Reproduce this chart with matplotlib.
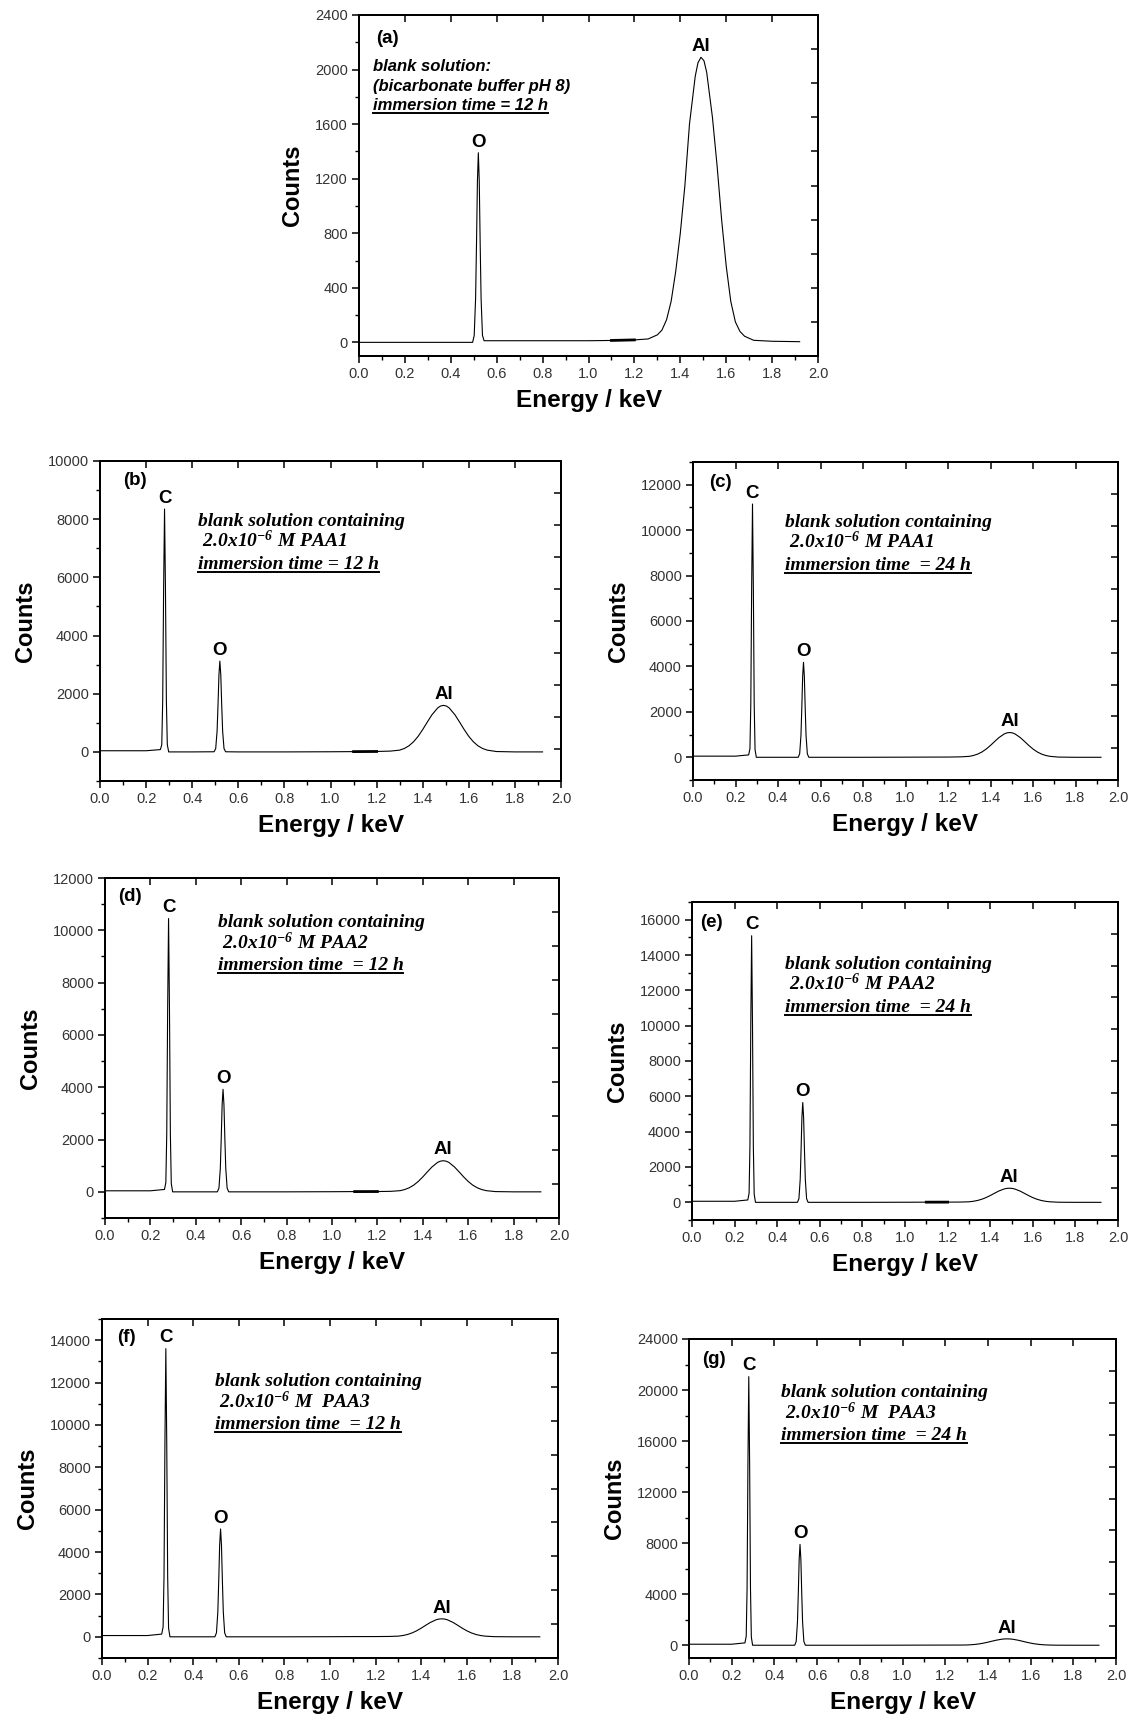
import numpy as np
import matplotlib
matplotlib.use("Agg")
import matplotlib.pyplot as plt
import matplotlib.transforms as mtransforms
from matplotlib.lines import Line2D
from matplotlib.ticker import MultipleLocator, FormatStrFormatter

plt.rcParams['font.family'] = ['Liberation Sans', 'DejaVu Sans']
plt.rcParams['mathtext.fontset'] = 'custom'
plt.rcParams['mathtext.rm'] = 'Liberation Serif:bold:italic'
plt.rcParams['mathtext.it'] = 'Liberation Serif:bold:italic'
plt.rcParams['mathtext.bf'] = 'Liberation Serif:bold:italic'

# energy axis (keV), shared by all spectra
energy = [0.00, 0.20, 0.262, 0.268, 0.272, 0.276, 0.280, 0.284, 0.288, 0.292, 0.298,
          0.40, 0.495, 0.502, 0.508, 0.512, 0.516, 0.520, 0.524, 0.528, 0.532, 0.538,
          0.545, 0.60, 0.80, 1.00, 1.10, 1.20, 1.26, 1.30, 1.32, 1.34, 1.36, 1.38,
          1.40, 1.42, 1.44, 1.465, 1.477, 1.49, 1.503, 1.515, 1.54, 1.56, 1.58, 1.60,
          1.62, 1.64, 1.66, 1.68, 1.72, 1.80, 1.92]

# counts
counts_a = [0, 0, 0, 0, 0, 0, 0, 0, 0, 0, 0,
            0, 0, 51, 320, 723, 1180, 1390, 1180, 723, 320, 51,
            12, 12, 12, 12, 14, 18, 25, 55, 90, 165, 300, 520,
            800, 1150, 1600, 1950, 2050, 2090, 2065, 1980, 1650, 1300, 900, 560,
            300, 150, 80, 45, 15, 8, 5]
counts_b = [40, 40, 80, 250, 1750, 5600, 8350, 5600, 1750, 250, 0,
            0, 5, 115, 720, 1620, 2650, 3120, 2650, 1620, 720, 115,
            5, 0, 0, 5, 10, 15, 28, 61, 117, 208, 346, 534,
            768, 1026, 1275, 1512, 1576, 1600, 1576, 1512, 1275, 1026, 768, 534,
            346, 208, 117, 61, 13, 0, 0]
counts_c = [50, 50, 105, 385, 2340, 7470, 11150, 7470, 2340, 335, 0,
            0, 0, 155, 960, 2175, 3555, 4180, 3555, 2175, 960, 155,
            0, 0, 0, 5, 8, 10, 19, 41, 80, 142, 235, 364,
            523, 699, 869, 1030, 1074, 1090, 1074, 1030, 869, 699, 523, 364,
            235, 142, 80, 41, 9, 0, 0]
counts_d = [40, 40, 92, 354, 2195, 7000, 10450, 7000, 2195, 314, 0,
            0, 0, 145, 900, 2040, 3330, 3920, 3330, 2040, 900, 145,
            0, 0, 0, 5, 10, 12, 20, 45, 87, 155, 257, 397,
            571, 763, 948, 1125, 1172, 1190, 1172, 1125, 948, 763, 571, 397,
            257, 155, 87, 45, 10, 0, 0]
counts_e = [60, 60, 135, 513, 3170, 10110, 15090, 10110, 3170, 453, 0,
            0, 0, 209, 1300, 2940, 4800, 5650, 4800, 2940, 1300, 209,
            0, 0, 0, 5, 10, 12, 16, 30, 58, 104, 173, 267,
            384, 513, 638, 756, 788, 800, 788, 756, 638, 513, 384, 267,
            173, 104, 58, 30, 6, 0, 0]
counts_f = [60, 60, 128, 468, 2856, 9112, 13600, 9112, 2856, 408, 0,
            0, 0, 188, 1170, 2647, 4327, 5090, 4327, 2647, 1170, 188,
            0, 0, 0, 5, 10, 12, 17, 32, 62, 110, 184, 284,
            408, 545, 677, 803, 837, 850, 837, 803, 677, 545, 408, 284,
            184, 110, 62, 32, 7, 0, 0]
counts_g = [80, 80, 185, 712, 4420, 14100, 21050, 14100, 4420, 632, 0,
            0, 0, 292, 1817, 4108, 6715, 7900, 6715, 4108, 1817, 292,
            0, 0, 0, 5, 10, 12, 14, 19, 37, 65, 108, 167,
            240, 321, 399, 473, 492, 500, 492, 473, 399, 321, 240, 167,
            108, 65, 37, 19, 4, 0, 0]

panel_tags = ['(a)', '(b)', '(c)', '(d)', '(e)', '(f)', '(g)']
y_limits = [(-100, 2400), (-1000, 10000), (-1000, 13000), (-1000, 12000),
            (-1000, 17000), (-1000, 15000), (-1000, 24000)]
y_steps = [400, 2000, 2000, 2000, 2000, 2000, 4000]
peak_names_a = [('O', 0.520), ('Al', 1.49)]
peak_names = [('C', 0.280), ('O', 0.520), ('Al', 1.49)]

note_a = ['blank solution:', '(bicarbonate buffer pH 8)', 'immersion time = 12 h']
note_b = ['blank solution containing', ' 2.0x10$^{-6}$ M PAA1', 'immersion time = 12 h']
note_c = ['blank solution containing', ' 2.0x10$^{-6}$ M PAA1', 'immersion time  = 24 h']
note_d = ['blank solution containing', ' 2.0x10$^{-6}$ M PAA2', 'immersion time  = 12 h']
note_e = ['blank solution containing', ' 2.0x10$^{-6}$ M PAA2', 'immersion time  = 24 h']
note_f = ['blank solution containing', ' 2.0x10$^{-6}$ M  PAA3', 'immersion time  = 12 h']
note_g = ['blank solution containing', ' 2.0x10$^{-6}$ M  PAA3', 'immersion time  = 24 h']

# layout (pixels: left, top, right, bottom) and text anchors (axes fractions)
boxes = [(359, 15, 818, 356), (100, 461, 561, 781), (693, 462, 1118, 780),
         (105, 878, 559, 1218), (692, 902, 1118, 1220), (102, 1319, 558, 1658),
         (689, 1339, 1116, 1658)]
tag_pos = [(0.037, 0.93), (0.05, 0.94), (0.039, 0.937), (0.03, 0.946),
           (0.019, 0.937), (0.033, 0.946), (0.03, 0.937)]
note_pos = [(0.031, 0.712), (0.213, 0.653), (0.216, 0.6525), (0.248, 0.72),
            (0.2176, 0.646), (0.248, 0.666), (0.215, 0.673)]
overlap = [True, True, False, True, True, False, False]

all_counts = [counts_a, counts_b, counts_c, counts_d, counts_e, counts_f, counts_g]
all_notes = [note_a, note_b, note_c, note_d, note_e, note_f, note_g]

W, H = 1137, 1720
fig = plt.figure(figsize=(W / 100, H / 100), dpi=100)
E = np.array(energy)
tick_col = '#333333'

underlines = []
for k in range(7):
    l, t, r, b = boxes[k]
    ax = fig.add_axes([l / W, 1 - b / H, (r - l) / W, (b - t) / H])
    y = np.array(all_counts[k], dtype=float)
    ax.plot(E, y, color='black', lw=0.8)
    if overlap[k]:
        m = (E >= 1.09) & (E <= 1.22)
        ax.plot(E[m], y[m], color='black', lw=2.0)

    ylo, yhi = y_limits[k]
    ax.set_xlim(0, 2.0)
    ax.set_ylim(ylo, yhi)
    ax.xaxis.set_major_locator(MultipleLocator(0.2))
    ax.xaxis.set_minor_locator(MultipleLocator(0.1))
    ax.xaxis.set_major_formatter(FormatStrFormatter('%.1f'))
    ax.yaxis.set_major_locator(MultipleLocator(y_steps[k]))
    ax.yaxis.set_minor_locator(MultipleLocator(y_steps[k] / 2))
    ax.tick_params(which='major', direction='out', length=5, width=1.1,
                   labelsize=10.5, labelcolor=tick_col, pad=3)
    ax.tick_params(which='minor', direction='out', length=3, width=1.0)
    for s in ax.spines.values():
        s.set_linewidth(1.3)

    # mirror axes with their own evenly spaced inward ticks
    axr = ax.twinx()
    axr.set_ylim(0, 1)
    axr.set_yticks(np.arange(1, 10) / 10)
    axr.tick_params(direction='in', length=5, width=1.1, labelright=False)
    axt = ax.twiny()
    axt.set_xlim(0, 1)
    axt.set_xticks(np.arange(1, 10) / 10)
    axt.tick_params(direction='in', length=5, width=1.1, labeltop=False)
    for a2 in (axr, axt):
        for s in a2.spines.values():
            s.set_linewidth(1.3)

    ax.set_xlabel('Energy / keV', fontsize=17.5, fontweight='bold', labelpad=6)
    ax.set_ylabel('Counts', fontsize=17, fontweight='bold', labelpad=8)

    names = peak_names_a if k == 0 else peak_names
    for name, pe in names:
        i = int(np.argmin(np.abs(E - pe)))
        axt.annotate(name, xy=(pe / 2.0, (y[i] - ylo) / (yhi - ylo)),
                     xycoords='axes fraction',
                     xytext=(0, 4.5), textcoords='offset points',
                     ha='center', va='baseline', fontsize=13.5, fontweight='bold')

    ax.text(tag_pos[k][0], tag_pos[k][1], panel_tags[k], transform=ax.transAxes,
            ha='left', va='center', fontsize=13.5, fontweight='bold')

    nx, ny = note_pos[k]
    if k == 0:
        fp = dict(family=['Liberation Sans', 'DejaVu Sans'], fontsize=12,
                  fontweight='bold', style='italic')
        offs = [42, 22.5, 3]
    else:
        fp = dict(family=['Liberation Serif', 'DejaVu Serif'], fontsize=14,
                  fontweight='bold', style='italic')
        offs = [46, 24.5, 3]
    last = None
    for line, dy in zip(all_notes[k], offs):
        tr = mtransforms.offset_copy(ax.transAxes, fig=fig, x=0, y=dy, units='dots')
        last = ax.text(nx, ny, line, transform=tr, ha='left', va='baseline', **fp)
    underlines.append((ax, last, ny))

fig.canvas.draw()
renderer = fig.canvas.get_renderer()
inv = fig.transFigure.inverted()
for ax, txt, ny in underlines:
    bb = txt.get_window_extent(renderer)
    yd = ax.transAxes.transform((0, ny))[1]
    p0 = inv.transform((bb.x0, yd))
    p1 = inv.transform((bb.x1, yd))
    fig.add_artist(Line2D([p0[0], p1[0]], [p0[1], p1[1]], color='black', lw=1.4,
                          transform=fig.transFigure))

fig.savefig('out.png', dpi=100)
